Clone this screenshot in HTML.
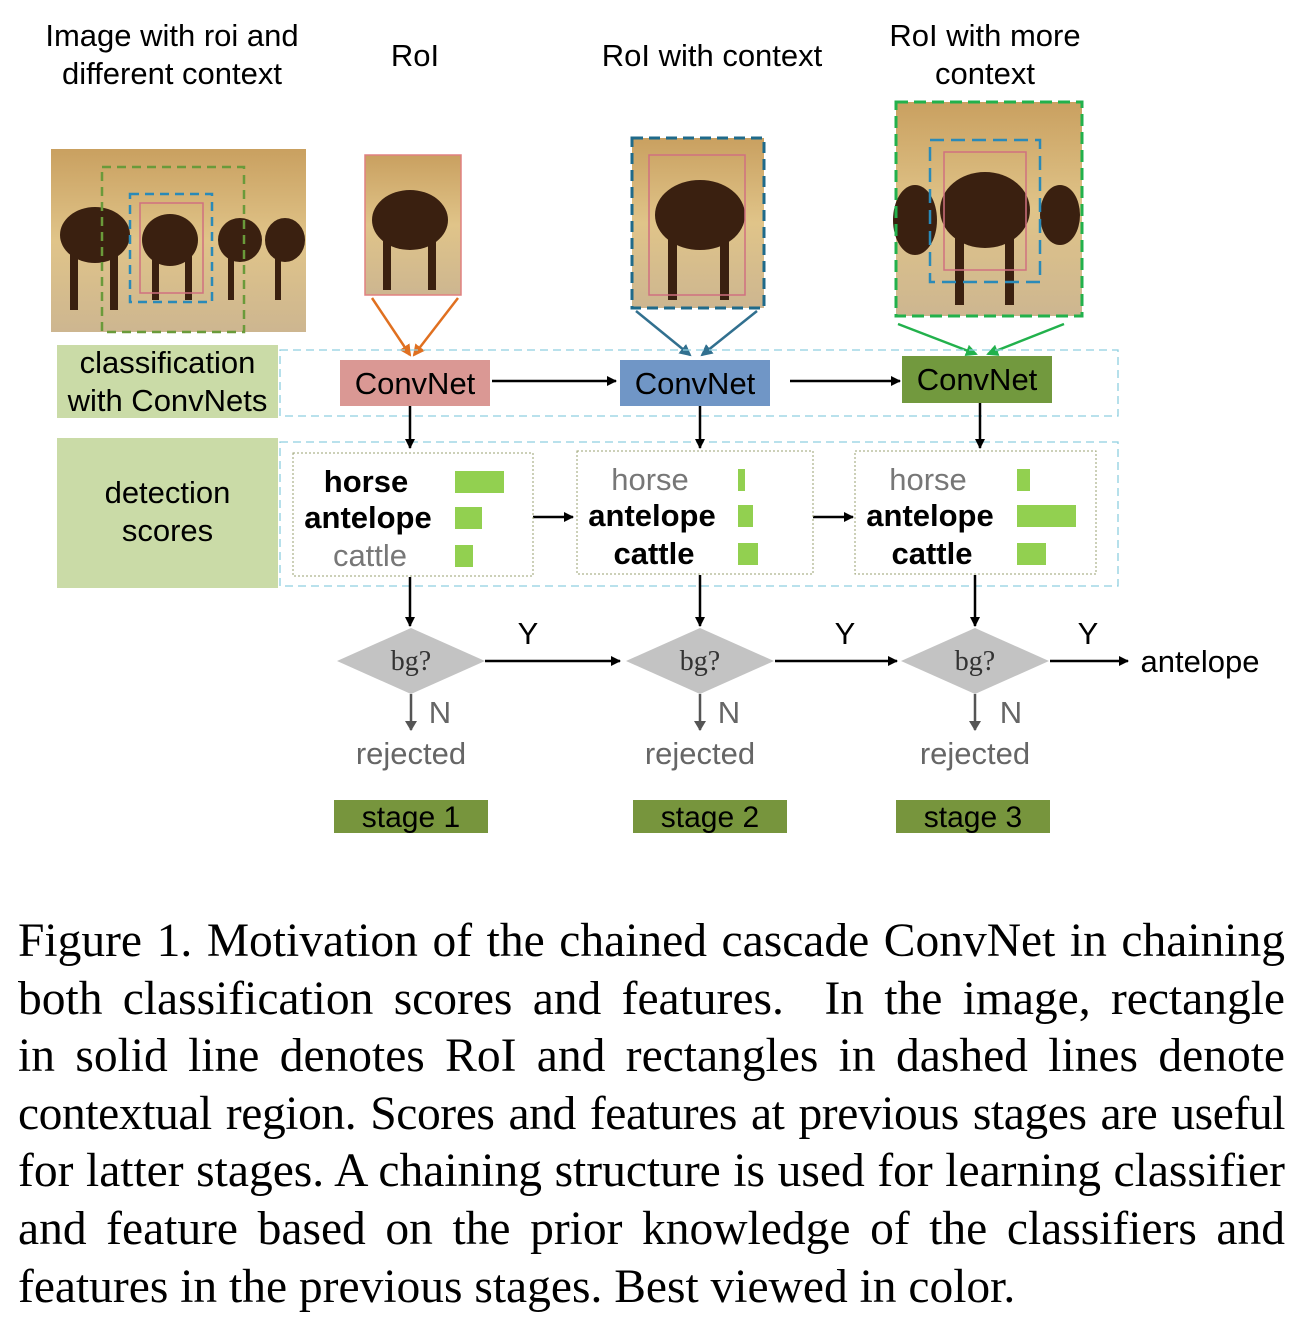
<!DOCTYPE html>
<html><head><meta charset="utf-8"><style>
body{margin:0;width:1304px;height:1322px;background:#fff;position:relative;overflow:hidden;font-family:"Liberation Sans",sans-serif}
.t{position:absolute;font-size:31px;text-align:center;white-space:nowrap;line-height:38px}
.cap{position:absolute;left:18px;width:1267px;font-family:"Liberation Serif",serif;font-size:47.5px;line-height:57.6px;top:913px}
.cap div{height:57.6px;white-space:nowrap;text-align:justify;text-align-last:justify}
.cap div:last-child{text-align-last:left}
</style></head><body>
<svg width="1304" height="900" style="position:absolute;left:0;top:0" font-family="Liberation Sans, sans-serif">
<defs>
<linearGradient id="bg" x1="0" y1="0" x2="0" y2="1"><stop offset="0" stop-color="#c9a060"/><stop offset="0.5" stop-color="#e0c489"/><stop offset="1" stop-color="#cdb690"/></linearGradient>
<marker id="ah" markerWidth="10" markerHeight="10" refX="9" refY="5" orient="auto" markerUnits="userSpaceOnUse"><path d="M0,0 L10,5 L0,10 z" fill="#000"/></marker>
<marker id="ag" markerWidth="10" markerHeight="12" refX="9" refY="6" orient="auto" markerUnits="userSpaceOnUse"><path d="M0,0 L10,6 L0,12 z" fill="#555"/></marker>
<marker id="ao" markerWidth="12" markerHeight="12" refX="10" refY="6" orient="auto" markerUnits="userSpaceOnUse"><path d="M0,0 L12,6 L0,12 z" fill="#e07020"/></marker>
<marker id="ab" markerWidth="12" markerHeight="12" refX="10" refY="6" orient="auto" markerUnits="userSpaceOnUse"><path d="M0,0 L12,6 L0,12 z" fill="#31708f"/></marker>
<marker id="agr" markerWidth="12" markerHeight="12" refX="10" refY="6" orient="auto" markerUnits="userSpaceOnUse"><path d="M0,0 L12,6 L0,12 z" fill="#22b14c"/></marker>
</defs>
<rect x="51" y="149" width="255" height="183" fill="url(#bg)"/>
<g fill="#3a2010">
<ellipse cx="95" cy="235" rx="35" ry="28"/><rect x="70" y="250" width="8" height="60"/><rect x="110" y="250" width="8" height="60"/>
<ellipse cx="170" cy="240" rx="28" ry="26"/><rect x="152" y="255" width="7" height="45"/><rect x="185" y="255" width="7" height="45"/>
<ellipse cx="240" cy="240" rx="22" ry="22"/><rect x="228" y="255" width="6" height="45"/>
<ellipse cx="285" cy="240" rx="20" ry="22"/><rect x="275" y="255" width="6" height="45"/>
</g>
<rect x="102" y="167" width="142" height="165" fill="none" stroke="#6a9a3a" stroke-width="2.5" stroke-dasharray="9,6"/>
<rect x="130" y="194" width="82" height="108" fill="none" stroke="#2a8ab8" stroke-width="2.5" stroke-dasharray="9,6"/>
<rect x="140" y="203" width="63" height="90" fill="none" stroke="#d07080" stroke-width="1.5"/>
<rect x="365" y="155" width="96" height="140" fill="url(#bg)" stroke="#e08080" stroke-width="1.5"/>
<g fill="#3a2010"><ellipse cx="410" cy="220" rx="38" ry="30"/><rect x="383" y="235" width="8" height="55"/><rect x="428" y="235" width="8" height="55"/></g>
<line x1="372" y1="298" x2="410" y2="355" stroke="#e07020" stroke-width="2.5" marker-end="url(#ao)"/>
<line x1="458" y1="298" x2="414" y2="355" stroke="#e07020" stroke-width="2.5" marker-end="url(#ao)"/>
<rect x="632" y="138" width="132" height="170" fill="url(#bg)"/>
<g fill="#3a2010"><ellipse cx="700" cy="215" rx="45" ry="35"/><rect x="668" y="235" width="9" height="65"/><rect x="720" y="235" width="9" height="65"/></g>
<rect x="649" y="155" width="96" height="140" fill="none" stroke="#d07080" stroke-width="1.5"/>
<rect x="632" y="138" width="132" height="170" fill="none" stroke="#1f6a8a" stroke-width="3" stroke-dasharray="11,6"/>
<line x1="636" y1="311" x2="690" y2="355" stroke="#31708f" stroke-width="2.5" marker-end="url(#ab)"/>
<line x1="757" y1="311" x2="702" y2="355" stroke="#31708f" stroke-width="2.5" marker-end="url(#ab)"/>
<rect x="896" y="102" width="186" height="214" fill="url(#bg)"/>
<g fill="#3a2010"><ellipse cx="915" cy="220" rx="22" ry="35"/><ellipse cx="985" cy="210" rx="45" ry="38"/><rect x="955" y="235" width="9" height="70"/><rect x="1005" y="235" width="9" height="70"/><ellipse cx="1060" cy="215" rx="20" ry="30"/></g>
<rect x="930" y="140" width="110" height="142" fill="none" stroke="#2a8ab8" stroke-width="2.5" stroke-dasharray="14,7"/>
<rect x="944" y="152" width="82" height="118" fill="none" stroke="#d07080" stroke-width="1.5"/>
<rect x="896" y="102" width="186" height="214" fill="none" stroke="#22b14c" stroke-width="3" stroke-dasharray="12,6"/>
<line x1="898" y1="324" x2="976" y2="354" stroke="#22b14c" stroke-width="2.5" marker-end="url(#agr)"/>
<line x1="1064" y1="324" x2="988" y2="354" stroke="#22b14c" stroke-width="2.5" marker-end="url(#agr)"/>
<rect x="280" y="350" width="838" height="66" fill="none" stroke="#8fcfe0" stroke-width="1.3" stroke-dasharray="8,5"/>
<rect x="280" y="442" width="838" height="144" fill="none" stroke="#8fcfe0" stroke-width="1.3" stroke-dasharray="8,5"/>
<rect x="57" y="345" width="221" height="73" fill="#cadba7"/>
<rect x="57" y="438" width="221" height="150" fill="#cadba7"/>
<rect x="340" y="360" width="150" height="46" fill="#da9894"/>
<rect x="620" y="360" width="150" height="46" fill="#7096c6"/>
<rect x="902" y="356" width="150" height="47" fill="#72993e"/>
<g font-size="31" text-anchor="middle" fill="#000">
<text x="415" y="394">ConvNet</text><text x="695" y="394">ConvNet</text><text x="977" y="390">ConvNet</text>
</g>
<g stroke="#000" stroke-width="2.5" fill="none">
<line x1="492" y1="381" x2="616" y2="381" marker-end="url(#ah)"/>
<line x1="790" y1="381" x2="900" y2="381" marker-end="url(#ah)"/>
<line x1="410" y1="406" x2="410" y2="448" marker-end="url(#ah)"/>
<line x1="700" y1="406" x2="700" y2="448" marker-end="url(#ah)"/>
<line x1="980" y1="403" x2="980" y2="448" marker-end="url(#ah)"/>
<line x1="533" y1="517" x2="573" y2="517" marker-end="url(#ah)"/>
<line x1="813" y1="517" x2="853" y2="517" marker-end="url(#ah)"/>
<line x1="410" y1="577" x2="410" y2="626" marker-end="url(#ah)"/>
<line x1="700" y1="575" x2="700" y2="626" marker-end="url(#ah)"/>
<line x1="975" y1="575" x2="975" y2="626" marker-end="url(#ah)"/>
<line x1="485" y1="661" x2="620" y2="661" marker-end="url(#ah)"/>
<line x1="775" y1="661" x2="897" y2="661" marker-end="url(#ah)"/>
<line x1="1050" y1="661" x2="1128" y2="661" marker-end="url(#ah)"/>
</g>
<g fill="#fff" stroke="#9aa070" stroke-width="1" stroke-dasharray="2,2">
<rect x="293" y="453" width="240" height="123"/><rect x="577" y="451" width="236" height="123"/><rect x="855" y="451" width="241" height="123"/>
</g>
<g fill="#92d050">
<rect x="455" y="471" width="49" height="22"/><rect x="455" y="507" width="27" height="22"/><rect x="455" y="545" width="18" height="22"/>
<rect x="738" y="469" width="7" height="22"/><rect x="738" y="505" width="15" height="22"/><rect x="738" y="543" width="20" height="22"/>
<rect x="1017" y="469" width="13" height="22"/><rect x="1017" y="505" width="59" height="22"/><rect x="1017" y="543" width="29" height="22"/>
</g>
<g font-size="31" text-anchor="middle">
<text x="366" y="492" font-weight="bold">horse</text><text x="368" y="528" font-weight="bold">antelope</text><text x="370" y="566" fill="#777">cattle</text>
<text x="650" y="490" fill="#777">horse</text><text x="652" y="526" font-weight="bold">antelope</text><text x="654" y="564" font-weight="bold">cattle</text>
<text x="928" y="490" fill="#777">horse</text><text x="930" y="526" font-weight="bold">antelope</text><text x="932" y="564" font-weight="bold">cattle</text>
</g>
<g fill="#c3c3c3">
<polygon points="337,661 411,628 485,661 411,694"/><polygon points="626,661 700,628 774,661 700,694"/><polygon points="901,661 975,628 1049,661 975,694"/>
</g>
<g font-family="Liberation Serif, serif" font-size="28" text-anchor="middle" fill="#333">
<text x="411" y="670">bg?</text><text x="700" y="670">bg?</text><text x="975" y="670">bg?</text>
</g>
<g stroke="#555" stroke-width="2.5">
<line x1="411" y1="694" x2="411" y2="730" marker-end="url(#ag)"/>
<line x1="700" y1="694" x2="700" y2="730" marker-end="url(#ag)"/>
<line x1="975" y1="694" x2="975" y2="730" marker-end="url(#ag)"/>
</g>
<g font-size="31" fill="#000" text-anchor="middle">
<text x="528" y="644">Y</text><text x="845" y="644">Y</text><text x="1088" y="644">Y</text>
<text x="1200" y="672">antelope</text>
</g>
<g font-size="31" fill="#666" text-anchor="middle">
<text x="440" y="723">N</text><text x="729" y="723">N</text><text x="1011" y="723">N</text>
<text x="411" y="764">rejected</text><text x="700" y="764">rejected</text><text x="975" y="764">rejected</text>
</g>
<g fill="#77953d"><rect x="334" y="800" width="154" height="33"/><rect x="633" y="800" width="154" height="33"/><rect x="896" y="800" width="154" height="33"/></g>
<g font-size="30" text-anchor="middle" fill="#000">
<text x="411" y="827">stage 1</text><text x="710" y="827">stage 2</text><text x="973" y="827">stage 3</text>
</g>
</svg>
<div class="t" style="left:22px;width:300px;top:17px">Image with roi and<br>different context</div>
<div class="t" style="left:365px;width:100px;top:37px">RoI</div>
<div class="t" style="left:572px;width:280px;top:37px">RoI with context</div>
<div class="t" style="left:855px;width:260px;top:17px">RoI with more<br>context</div>
<div class="t" style="left:57px;width:221px;top:344px">classification<br>with ConvNets</div>
<div class="t" style="left:57px;width:221px;top:474px">detection<br>scores</div>
<div class="cap">
<div>Figure 1. Motivation of the chained cascade ConvNet in chaining</div>
<div>both classification scores and features. &nbsp;In the image, rectangle</div>
<div>in solid line denotes RoI and rectangles in dashed lines denote</div>
<div style="letter-spacing:-0.4px;word-spacing:-2px">contextual region. Scores and features at previous stages are useful</div>
<div>for latter stages. A chaining structure is used for learning classifier</div>
<div>and feature based on the prior knowledge of the classifiers and</div>
<div>features in the previous stages. Best viewed in color.</div>
</div>
</body></html>
